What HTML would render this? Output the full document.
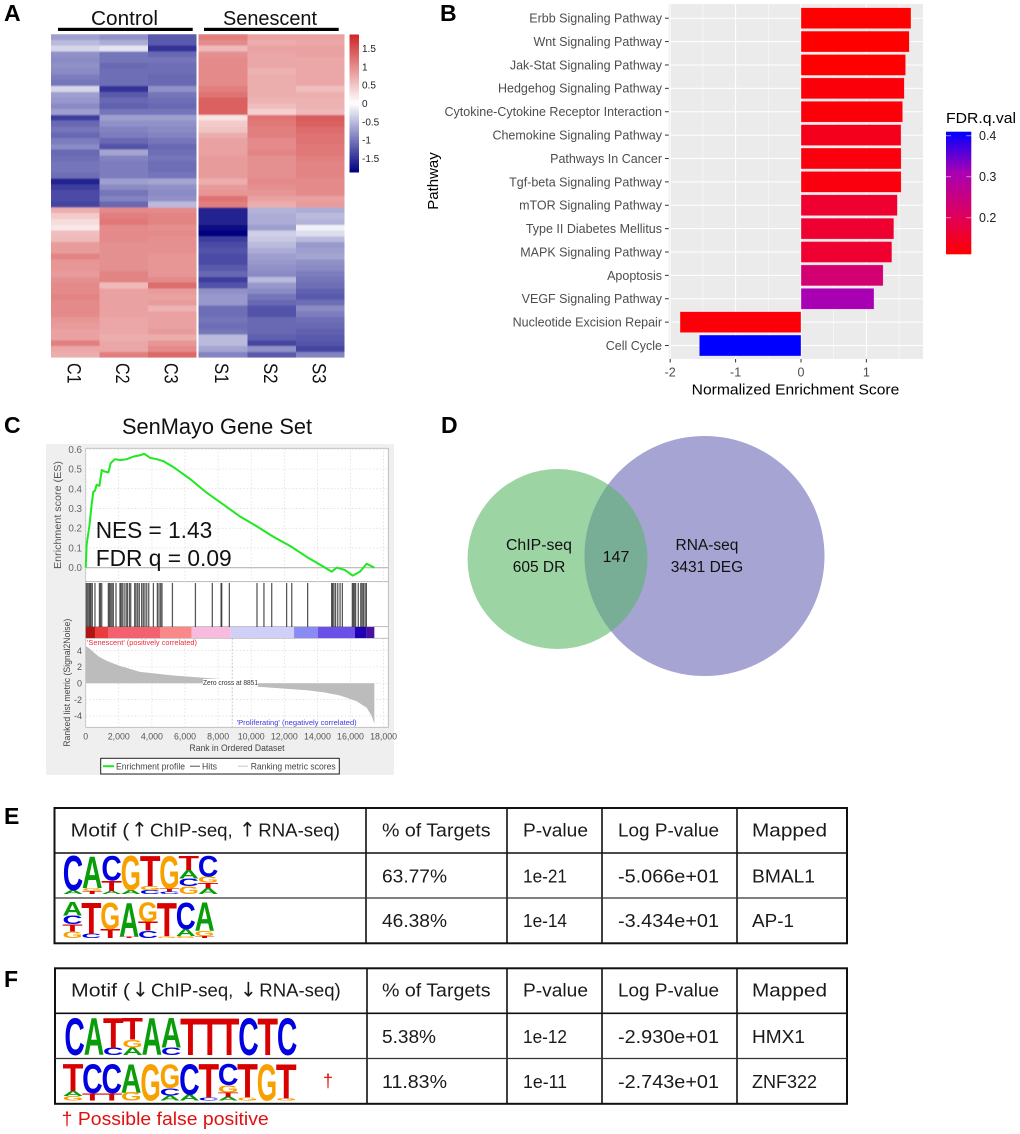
<!DOCTYPE html>
<html lang="en">
<head>
<meta charset="utf-8">
<title>Senescence multi-panel figure</title>
<style>
html,body{margin:0;padding:0;background:#fff}
svg{display:block}
text{font-family:"Liberation Sans",Arial,sans-serif}
.pl{font-weight:bold;font-size:23px;fill:#000}
.tb{font-size:18px;fill:#1a1a1a}
.ar{font-family:"DejaVu Sans",sans-serif;font-size:20px;fill:#1a1a1a}
</style>
</head>
<body>
<svg id="fig" xmlns="http://www.w3.org/2000/svg" width="1020" height="1134" viewBox="0 0 1020 1134">
  <defs>
    <filter id="rowBlur" x="-2%" y="-2%" width="104%" height="104%"><feGaussianBlur stdDeviation="0 0.9"/></filter>
    <clipPath id="heatClip"><rect x="51" y="34" width="293.7" height="323.7"/></clipPath>
    <clipPath id="rnaClip"><circle cx="704.5" cy="556" r="120"/></clipPath>
    <linearGradient id="fdrGrad" x1="0" y1="1" x2="0" y2="0">
      <stop offset="0" stop-color="#ff0000"/>
      <stop offset="0.33" stop-color="#dc0060"/>
      <stop offset="0.67" stop-color="#a800b4"/>
      <stop offset="1" stop-color="#0000ff"/>
    </linearGradient>
  </defs>
  <rect x="0" y="0" width="1020" height="1134" fill="#fff"/>

  <!-- Panel letters -->
  <text class="pl" x="4" y="21">A</text>
  <text class="pl" x="440" y="21">B</text>
  <text class="pl" x="4" y="433">C</text>
  <text class="pl" x="441" y="433">D</text>
  <text class="pl" x="4" y="824">E</text>
  <text class="pl" x="4" y="987">F</text>

  <!-- Panel A -->
  <g id="panelA">
    <text x="91" y="25" font-size="20" textLength="67" lengthAdjust="spacingAndGlyphs" fill="#111">Control</text>
    <rect x="58" y="27.8" width="134.7" height="3.2" fill="#000"/>
    <text x="223" y="25" font-size="20" textLength="94" lengthAdjust="spacingAndGlyphs" fill="#111">Senescent</text>
    <rect x="204" y="27.8" width="134.7" height="3.2" fill="#000"/>
    <g clip-path="url(#heatClip)">
      <g id="heatCells" filter="url(#rowBlur)"></g>
    </g>
  </g>

  <!-- Panel B -->
  <g id="panelB">
    <rect x="668.7" y="4" width="254.3" height="355" fill="#ebebeb"/>
    <text x="795.5" y="394.5" font-size="15" text-anchor="middle" textLength="207.6" lengthAdjust="spacingAndGlyphs" fill="#000">Normalized Enrichment Score</text>
    <text transform="translate(438,181) rotate(-90)" font-size="15" text-anchor="middle" fill="#000">Pathway</text>
    <text x="946" y="123" font-size="15" textLength="70" lengthAdjust="spacingAndGlyphs" fill="#000">FDR.q.val</text>
    <rect x="946" y="131.7" width="25.3" height="122.6" fill="url(#fdrGrad)"/>
  </g>

  <!-- Panel C -->
  <g id="panelC">
    <text x="122" y="434" font-size="22" textLength="190" lengthAdjust="spacingAndGlyphs" fill="#111">SenMayo Gene Set</text>
    <rect x="46" y="444" width="348" height="331" fill="#efefef"/>
    <rect x="85.7" y="448.3" width="302.6" height="133.4" fill="#fff" stroke="#b5b5b5" stroke-width="0.8"/>
    <rect x="85.7" y="581.7" width="302.6" height="45" fill="#fff" stroke="#b5b5b5" stroke-width="0.8"/>
    <rect x="85.7" y="626.7" width="302.6" height="11.6" fill="#fff" stroke="#b5b5b5" stroke-width="0.8"/>
    <rect x="85.7" y="638.3" width="302.6" height="89" fill="#fff" stroke="#b5b5b5" stroke-width="0.8"/>
    <text transform="translate(61,515) rotate(-90)" font-size="10.5" text-anchor="middle" textLength="108" lengthAdjust="spacingAndGlyphs" fill="#555">Enrichment score (ES)</text>
    <text transform="translate(70,682.7) rotate(-90)" font-size="9.5" text-anchor="middle" textLength="128" lengthAdjust="spacingAndGlyphs" fill="#444">Ranked list metric (Signal2Noise)</text>
    <text x="237" y="751" font-size="9.5" text-anchor="middle" textLength="95" lengthAdjust="spacingAndGlyphs" fill="#444">Rank in Ordered Dataset</text>
    <g>
      <rect x="100.7" y="758.3" width="238.6" height="15.7" fill="#fff" stroke="#222" stroke-width="1"/>
      <line x1="103" x2="114" y1="766.2" y2="766.2" stroke="#1fe81f" stroke-width="2"/>
      <text x="116" y="769.3" font-size="8.8" textLength="69" lengthAdjust="spacingAndGlyphs" fill="#444">Enrichment profile</text>
      <line x1="190" x2="200" y1="766.2" y2="766.2" stroke="#555" stroke-width="1"/>
      <text x="202" y="769.3" font-size="8.8" textLength="15" lengthAdjust="spacingAndGlyphs" fill="#444">Hits</text>
      <line x1="238" x2="248" y1="766.2" y2="766.2" stroke="#c4c4c4" stroke-width="1"/>
      <text x="250.7" y="769.3" font-size="8.8" textLength="85" lengthAdjust="spacingAndGlyphs" fill="#444">Ranking metric scores</text>
    </g>
  </g>

  <!-- Panel D -->
  <g id="panelD">
    <circle cx="557.5" cy="559" r="90" fill="#9dd4a4"/>
    <circle cx="704.5" cy="556" r="120" fill="#a5a4d2"/>
    <circle cx="557.5" cy="559" r="90" fill="#78ad96" clip-path="url(#rnaClip)"/>
    <text x="539" y="550" font-size="15.5" text-anchor="middle" textLength="66" lengthAdjust="spacingAndGlyphs" fill="#111">ChIP-seq</text>
    <text x="539" y="572" font-size="15.5" text-anchor="middle" fill="#111">605 DR</text>
    <text x="616" y="562" font-size="16" text-anchor="middle" fill="#111">147</text>
    <text x="707" y="550" font-size="15.5" text-anchor="middle" fill="#111">RNA-seq</text>
    <text x="707" y="572" font-size="15.5" text-anchor="middle" fill="#111">3431 DEG</text>
  </g>

  <!-- Panel E table -->
  <g id="tableE" stroke="none">
    <rect x="54.5" y="808" width="792.5" height="135.3" fill="none" stroke="#111" stroke-width="2"/>
    <path d="M54.5 853H847M366 808V943M507 808V943M602 808V943M737 808V943" fill="none" stroke="#111" stroke-width="1.6"/>
    <path d="M54.5 898H847" fill="none" stroke="#333" stroke-width="1.2"/>
    <text class="tb" x="70.7" y="836.5" textLength="58.6" lengthAdjust="spacingAndGlyphs">Motif (</text>
    <text class="ar" x="131" y="836.5">↑</text>
    <text class="tb" x="150" y="836.5" textLength="82.7" lengthAdjust="spacingAndGlyphs">ChIP-seq,</text>
    <text class="ar" x="239" y="836.5">↑</text>
    <text class="tb" x="258.3" y="836.5" textLength="81.7" lengthAdjust="spacingAndGlyphs">RNA-seq)</text>
    <text class="tb" x="382" y="836.5" textLength="108.5" lengthAdjust="spacingAndGlyphs">% of Targets</text>
    <text class="tb" x="523" y="836.5" textLength="65" lengthAdjust="spacingAndGlyphs">P-value</text>
    <text class="tb" x="618" y="836.5" textLength="101" lengthAdjust="spacingAndGlyphs">Log P-value</text>
    <text class="tb" x="752" y="836.5" textLength="75" lengthAdjust="spacingAndGlyphs">Mapped</text>
    <text class="tb" x="382" y="882.5" textLength="65" lengthAdjust="spacingAndGlyphs">63.77%</text>
    <text class="tb" x="523" y="882.5" textLength="44" lengthAdjust="spacingAndGlyphs">1e-21</text>
    <text class="tb" x="618" y="882.5" textLength="101" lengthAdjust="spacingAndGlyphs">-5.066e+01</text>
    <text class="tb" x="752" y="882.5" textLength="63" lengthAdjust="spacingAndGlyphs">BMAL1</text>
    <text class="tb" x="382" y="927" textLength="65" lengthAdjust="spacingAndGlyphs">46.38%</text>
    <text class="tb" x="523" y="927" textLength="44" lengthAdjust="spacingAndGlyphs">1e-14</text>
    <text class="tb" x="618" y="927" textLength="101" lengthAdjust="spacingAndGlyphs">-3.434e+01</text>
    <text class="tb" x="752" y="927" textLength="42" lengthAdjust="spacingAndGlyphs">AP-1</text>
  </g>

  <!-- Panel F table -->
  <g id="tableF" stroke="none">
    <rect x="55" y="968.3" width="792" height="135.5" fill="none" stroke="#111" stroke-width="2"/>
    <path d="M55 1013.3H847M367 968V1104M507 968V1104M602 968V1104M737 968V1104" fill="none" stroke="#111" stroke-width="1.6"/>
    <path d="M55 1058.5H847" fill="none" stroke="#333" stroke-width="1.2"/>
    <text class="tb" x="71" y="996.5" textLength="59" lengthAdjust="spacingAndGlyphs">Motif (</text>
    <text class="ar" x="132" y="996.5">↓</text>
    <text class="tb" x="151" y="996.5" textLength="82.3" lengthAdjust="spacingAndGlyphs">ChIP-seq,</text>
    <text class="ar" x="240" y="996.5">↓</text>
    <text class="tb" x="259.3" y="996.5" textLength="81.4" lengthAdjust="spacingAndGlyphs">RNA-seq)</text>
    <text class="tb" x="382" y="996.5" textLength="108.5" lengthAdjust="spacingAndGlyphs">% of Targets</text>
    <text class="tb" x="523" y="996.5" textLength="65" lengthAdjust="spacingAndGlyphs">P-value</text>
    <text class="tb" x="618" y="996.5" textLength="101" lengthAdjust="spacingAndGlyphs">Log P-value</text>
    <text class="tb" x="752" y="996.5" textLength="75" lengthAdjust="spacingAndGlyphs">Mapped</text>
    <text class="tb" x="382" y="1043" textLength="54" lengthAdjust="spacingAndGlyphs">5.38%</text>
    <text class="tb" x="523" y="1043" textLength="44" lengthAdjust="spacingAndGlyphs">1e-12</text>
    <text class="tb" x="618" y="1043" textLength="101" lengthAdjust="spacingAndGlyphs">-2.930e+01</text>
    <text class="tb" x="752" y="1043" textLength="53" lengthAdjust="spacingAndGlyphs">HMX1</text>
    <text class="tb" x="382" y="1088" textLength="65" lengthAdjust="spacingAndGlyphs">11.83%</text>
    <text class="tb" x="523" y="1088" textLength="44" lengthAdjust="spacingAndGlyphs">1e-11</text>
    <text class="tb" x="618" y="1088" textLength="101" lengthAdjust="spacingAndGlyphs">-2.743e+01</text>
    <text class="tb" x="752" y="1088" textLength="65" lengthAdjust="spacingAndGlyphs">ZNF322</text>
    <text x="323" y="1087" font-size="18" fill="#e01010">†</text>
    <text x="61.7" y="1125" font-size="18" textLength="207" lengthAdjust="spacingAndGlyphs" fill="#e01010">† Possible false positive</text>
  </g>
</svg>

<script>
// ---------- Panel A data ----------
const heatSamples = ['C1','C2','C3','S1','S2','S3'];
const heatLegendTicks = [1.5,1,0.5,0,-0.5,-1,-1.5];
const heatRows = [
 [-0.7,-0.8,-1.2,1.1,0.8,0.8],[-0.5,-0.6,-1.2,1.0,0.7,0.75],[-0.3,-0.2,-1.5,0.6,0.8,0.8],
 [-0.8,-1.0,-1.1,0.95,0.75,0.8],[-0.85,-1.0,-1.0,1.0,0.75,0.75],[-0.8,-1.1,-1.05,1.0,0.75,0.75],
 [-0.85,-1.05,-1.05,1.0,0.65,0.75],[-0.95,-1.05,-1.1,1.0,0.7,0.75],[-1.0,-1.05,-1.1,1.0,0.7,0.75],
 [-0.3,-1.5,-0.8,1.1,0.7,0.55],[-0.7,-1.2,-1.0,1.2,0.7,0.7],[-0.75,-1.1,-1.05,1.35,0.65,0.65],
 [-0.85,-1.15,-1.1,1.35,0.55,0.65],[-0.7,-1.0,-1.0,1.35,0.4,0.6],[-1.4,-0.7,-0.7,0.25,1.2,1.4],
 [-1.1,-0.8,-0.8,0.45,1.15,1.35],[-1.0,-0.9,-0.85,0.5,1.1,1.25],[-1.1,-0.95,-0.9,0.7,1.1,1.2],
 [-0.95,-1.1,-1.0,0.8,1.0,1.2],[-0.85,-1.25,-1.1,0.8,1.0,1.15],[-1.1,-0.65,-1.05,0.8,1.05,1.15],
 [-1.05,-0.9,-1.0,0.85,0.95,1.1],[-1.0,-0.95,-1.05,0.85,0.95,1.05],[-1.0,-0.95,-1.05,0.85,0.95,1.05],
 [-1.05,-0.95,-1.0,0.85,0.95,1.05],[-1.6,-0.7,-0.65,0.7,1.0,1.0],[-1.4,-0.85,-0.8,0.85,0.95,1.0],
 [-1.3,-1.0,-0.85,0.9,0.9,1.0],[-1.3,-0.9,-0.8,1.2,0.8,0.8],[-1.35,-1.1,-0.5,1.1,0.7,0.85],
 [0.7,1.0,1.0,-1.6,-0.55,-0.6],[0.45,1.1,1.05,-1.6,-0.6,-0.5],[0.3,1.15,1.05,-1.6,-0.6,-0.55],
 [0.2,1.0,0.95,-1.8,-0.7,-0.1],[0.55,1.0,1.0,-1.9,-0.35,-0.25],[0.6,1.0,0.95,-1.4,-0.4,-0.5],
 [0.85,0.95,0.95,-1.3,-0.5,-0.75],[0.85,0.95,0.95,-1.25,-0.6,-0.7],[1.05,0.95,0.9,-1.3,-0.7,-0.65],
 [0.9,0.95,0.9,-1.3,-0.75,-0.8],[0.9,0.95,0.9,-1.2,-0.8,-0.85],[0.85,1.05,0.9,-1.1,-0.85,-0.95],
 [0.95,1.05,1.0,-1.4,-0.5,-1.0],[1.0,0.6,1.25,-1.25,-0.75,-1.05],[1.0,0.8,0.85,-0.8,-0.85,-1.15],
 [1.05,0.8,0.8,-0.75,-1.0,-1.2],[1.0,0.8,0.85,-0.75,-1.1,-1.05],[1.0,0.8,0.65,-1.05,-1.25,-0.85],
 [1.0,0.8,0.8,-1.05,-1.25,-0.95],[0.9,0.75,0.8,-1.0,-1.1,-1.05],[0.85,0.75,0.8,-1.05,-1.1,-1.1],
 [0.8,0.75,0.85,-1.0,-1.1,-1.15],[0.8,0.7,0.7,-0.5,-1.15,-1.2],[1.1,0.75,0.9,-0.5,-1.35,-1.25],
 [0.75,0.75,1.0,-0.65,-0.8,-1.35],[0.7,1.1,1.3,-0.9,-1.2,-0.9]
];

// ---------- Panel B data ----------
const pathways = ['Erbb Signaling Pathway','Wnt Signaling Pathway','Jak-Stat Signaling Pathway','Hedgehog Signaling Pathway','Cytokine-Cytokine Receptor Interaction','Chemokine Signaling Pathway','Pathways In Cancer','Tgf-beta Signaling Pathway','mTOR Signaling Pathway','Type II Diabetes Mellitus','MAPK Signaling Pathway','Apoptosis','VEGF Signaling Pathway','Nucleotide Excision Repair','Cell Cycle'];
const nesValues = [1.682,1.656,1.60,1.58,1.555,1.53,1.532,1.532,1.474,1.42,1.39,1.257,1.117,-1.85,-1.555];
const fdrValues = [0.11,0.11,0.11,0.12,0.12,0.14,0.125,0.125,0.16,0.16,0.16,0.23,0.31,0.12,0.41];
const nesTicks = [-2,-1,0,1];
const fdrTicks = [0.4,0.3,0.2];

// ---------- Panel C data ----------
const esRanks = [0,60,220,360,460,560,660,830,970,1170,1370,1510,1770,2070,2480,2880,3280,3540,3890,4290,4690,5300,6300,7310,8320,9320,10330,11340,12350,13350,13960,14860,15170,15670,16130,16580,16980,17440];
const esValues = [0,0.12,0.21,0.32,0.385,0.39,0.42,0.415,0.495,0.487,0.483,0.53,0.55,0.545,0.55,0.563,0.57,0.577,0.557,0.55,0.54,0.51,0.45,0.38,0.32,0.26,0.21,0.157,0.11,0.055,0.025,-0.02,0,-0.012,-0.04,-0.02,0.02,0];
const hitRanks = [40,120,200,260,320,400,560,830,890,970,1370,1430,1510,1590,1670,1830,2070,2130,2210,2320,2440,2520,2640,2720,2960,3040,3140,3240,3380,3480,3580,3690,3810,4090,4330,4430,4530,4610,5240,6630,7650,8180,8220,8680,10350,10770,11240,12140,12450,13410,14860,14920,15000,15100,15230,15370,15510,16110,16170,16230,16310,16470,16620,16700,16780,16880,16960];
const bandEnds = [560,1370,4490,6400,8760,12590,14020,16270,16980,17440];
const bandColors = ['#b01414','#ea3c3c','#f5606e','#fb8888','#f9bbdd','#cfcff8','#8a8af5','#6a50e8','#2000b4','#4a10a0'];
const metricRanks = [0,260,770,1270,1970,3280,5300,7310,8700,8851,9000,10330,13350,14360,15370,16370,16980,17280,17440];
const metricValues = [4.57,4.2,3.3,2.75,2.2,1.4,0.95,0.65,0.45,0,-0.3,-0.4,-0.85,-1.1,-1.5,-2.2,-3.0,-4.0,-4.95];
const esTicks = ['0.6','0.5','0.4','0.3','0.2','0.1','0.0'];
const metricTicks = ['4','2','0','-2','-4'];
const rankTicks = ['0','2,000','4,000','6,000','8,000','10,000','12,000','14,000','16,000','18,000'];
const zeroCrossRank = 8851;

// ---------- Panels E/F logo data (bottom-to-top stacks, height fractions) ----------
const logoBmal1 = [
 [['A',.1],['C',.9]],[['T',.08],['G',.08],['A',.84]],[['A',.08],['T',.27],['C',.65]],[['A',.1],['G',.9]],
 [['C',.1],['G',.1],['T',.8]],[['C',.06],['T',.08],['G',.86]],[['G',.2],['C',.2],['A',.22],['T',.38]],[['A',.16],['T',.14],['G',.15],['C',.55]]
];
const logoAp1 = [
 [['G',.18],['T',.2],['C',.24],['A',.38]],[['C',.12],['T',.88]],[['T',.25],['G',.75]],[['T',.04],['A',.96]],
 [['C',.2],['T',.25],['G',.55]],[['G',.04],['T',.96]],[['G',.05],['A',.2],['C',.75]],[['T',.06],['G',.14],['A',.8]]
];
const logoHmx1 = [
 [['C',1]],[['A',1]],[['C',.2],['T',.8]],[['A',.2],['G',.2],['T',.6]],[['A',1]],[['C',.2],['A',.8]],
 [['T',1]],[['T',1]],[['T',1]],[['C',1]],[['T',1]],[['C',1]]
];
const logoZnf322 = [
 [['G',.12],['A',.14],['T',.74]],[['T',.2],['C',.8]],[['T',.2],['C',.8]],[['G',.22],['A',.78]],[['G',1]],
 [['A',.14],['C',.2],['G',.66]],[['A',.16],['C',.84]],[['C',.08],['T',.92]],[['A',.1],['T',.12],['G',.2],['C',.58]],
 [['G',.08],['T',.92]],[['G',1]],[['G',.06],['T',.94]]
];
const logoColors = {A:'#0a9c0a',C:'#0000e0',G:'#f7a000',T:'#d80000'};
const logoGlyphWidth = {A:.722,C:.722,G:.778,T:.611};

const NS = 'http://www.w3.org/2000/svg';
function mk(parent, tag, attrs, txt){
  const el = document.createElementNS(NS, tag);
  for (const k in attrs) el.setAttribute(k, attrs[k]);
  if (txt !== undefined) el.textContent = txt;
  parent.appendChild(el);
  return el;
}
const gA = document.getElementById('panelA');
const gB = document.getElementById('panelB');
const gC = document.getElementById('panelC');
const gHeat = document.getElementById('heatCells');

// ---------- Panel A ----------
const heatColX = [51,99.3,148,198.7,247.3,296];
const heatColW = 48.6;
const heatTop = 34, heatH = 323.7;
function heatY(i){ return heatTop + i * heatH / heatRows.length; }
function heatColor(v){
  const t = Math.min(1, Math.abs(v) / 1.85);
  const end = v >= 0 ? [205,38,38] : [0,0,128];
  return 'rgb(' + end.map(c => Math.round(255 + (c - 255) * t)).join(',') + ')';
}
heatRows.forEach((row, i) => {
  row.forEach((v, j) => {
    const w = (j === 2 || j === 5) ? 48.7 : heatColW + 0.3;
    const cell = mk(gHeat, 'rect', {x: heatColX[j], y: heatY(i), width: w, height: heatH / heatRows.length + 0.4, fill: heatColor(v), 'shape-rendering': 'crispEdges'});
    
    
  });
});
heatSamples.forEach((s, j) => {
  const lab = mk(gA, 'text', {transform: 'translate(' + (heatColX[j] + 16.5) + ',363) rotate(90)', 'font-size': 19, textLength: 20.5, lengthAdjust: 'spacingAndGlyphs', fill: '#111'}, s);
  
  
});
const barSteps = 60;
for (let k = 0; k < barSteps; k++) {
  const v = 1.85 - 3.7 * (k + 0.5) / barSteps;
  const seg = mk(gA, 'rect', {x: 349.3, y: 34.7 + k * 137.3 / barSteps, width: 9.7, height: 137.3 / barSteps + 0.4, fill: heatColor(v), 'shape-rendering': 'crispEdges'});
  
  
}
function heatLegendY(v){ return 103.4 - v * 36.7; }
heatLegendTicks.forEach(v => {
  const t = mk(gA, 'text', {x: 362, y: heatLegendY(v) + 3.6, 'font-size': 10, fill: '#222'}, String(v));
  
  
});

// ---------- Panel B ----------
function xB(v){ return 801 + v * 65.4; }
function yB(i){ return 18.2 + i * 23.38; }
function fdrY(v){ return 135.7 + (0.4 - v) * 410; }
function fdrColor(v){
  const stops = [[0,[255,0,0]],[0.33,[220,0,96]],[0.67,[168,0,180]],[1,[0,0,255]]];
  const t = Math.max(0, Math.min(1, (v - 0.111) / 0.299));
  for (let i = 1; i < stops.length; i++) {
    if (t <= stops[i][0]) {
      const f = (t - stops[i-1][0]) / (stops[i][0] - stops[i-1][0]);
      return 'rgb(' + stops[i][1].map((c, n) => Math.round(stops[i-1][1][n] + (c - stops[i-1][1][n]) * f)).join(',') + ')';
    }
  }
  return 'rgb(0,0,255)';
}
[-1.5,-0.5,0.5,1.5].forEach(v => {
  const g = mk(gB, 'line', {x1: xB(v), x2: xB(v), y1: 4, y2: 359, stroke: '#fff', 'stroke-width': 0.5});
  
  
});
nesTicks.forEach(v => {
  const g = mk(gB, 'line', {x1: xB(v), x2: xB(v), y1: 4, y2: 359, stroke: '#fff', 'stroke-width': 1});
  
  
  const tk = mk(gB, 'line', {x1: xB(v), x2: xB(v), y1: 359, y2: 362.5, stroke: '#333', 'stroke-width': 1});
  
  
  const t = mk(gB, 'text', {x: xB(v), y: 376.5, 'font-size': 12.5, 'text-anchor': 'middle', fill: '#4d4d4d'}, String(v));
  
  
});
pathways.forEach((p, i) => {
  const y = yB(i);
  const g = mk(gB, 'line', {x1: 668.7, x2: 923, y1: y, y2: y, stroke: '#fff', 'stroke-width': 1});
  
  
  const tk = mk(gB, 'line', {x1: 665, x2: 668.7, y1: y, y2: y, stroke: '#333', 'stroke-width': 1});
  
  
  const t = mk(gB, 'text', {x: 662, y: y + 4.4, 'font-size': 12.5, 'text-anchor': 'end', fill: '#4d4d4d'}, p);
  
  
  const x0 = Math.min(xB(0), xB(nesValues[i]));
  const bar = mk(gB, 'rect', {x: x0, y: y - 10.5, width: Math.abs(xB(nesValues[i]) - xB(0)), height: 21, fill: fdrColor(fdrValues[i]), stroke: '#fff', 'stroke-opacity': 0.55, 'stroke-width': 0.6});
  
  
});
fdrTicks.forEach(v => {
  const y = fdrY(v);
  const a = mk(gB, 'line', {x1: 946, x2: 951, y1: y, y2: y, stroke: '#fff', 'stroke-opacity': 0.5});
  
  
  const b = mk(gB, 'line', {x1: 966.3, x2: 971.3, y1: y, y2: y, stroke: '#fff', 'stroke-opacity': 0.5});
  
  
  const t = mk(gB, 'text', {x: 979, y: y + 4.4, 'font-size': 12.5, fill: '#222'}, v.toFixed(1));
  
  
});

// ---------- Panel C ----------
function xRank(r){ return 85.7 + r * 0.01655; }
function yES(v){ return 567.7 - v * 197.3; }
function yMetric(v){ return 683.3 - v * 8.17; }
rankTicks.forEach((lab, i) => {
  const x = xRank(i * 2000);
  const g1 = mk(gC, 'line', {x1: x, x2: x, y1: 448.3, y2: 581.7, stroke: '#dadada', 'stroke-width': 0.7, 'stroke-dasharray': '1.5 2'});
  
  
  const g2 = mk(gC, 'line', {x1: x, x2: x, y1: 638.3, y2: 727.3, stroke: '#dadada', 'stroke-width': 0.7, 'stroke-dasharray': '1.5 2'});
  
  
  const t = mk(gC, 'text', {x: x, y: 739.5, 'font-size': 8.8, 'text-anchor': 'middle', fill: '#555'}, lab);
  
  
});
esTicks.forEach(lab => {
  const y = yES(parseFloat(lab));
  const g = mk(gC, 'line', {x1: 85.7, x2: 388.3, y1: y, y2: y, stroke: lab === '0.0' ? '#b5b5b5' : '#dadada', 'stroke-width': lab === '0.0' ? 1.2 : 0.7, 'stroke-dasharray': lab === '0.0' ? 'none' : '1.5 2'});
  
  
  const t = mk(gC, 'text', {x: 82, y: y + 3.5, 'font-size': 9.8, 'text-anchor': 'end', fill: '#666'}, lab);
  
  
});
metricTicks.forEach(lab => {
  const y = yMetric(parseFloat(lab));
  const g = mk(gC, 'line', {x1: 85.7, x2: 388.3, y1: y, y2: y, stroke: '#dadada', 'stroke-width': 0.7, 'stroke-dasharray': '1.5 2'});
  
  
  const t = mk(gC, 'text', {x: 82, y: y + 3.2, 'font-size': 9, 'text-anchor': 'end', fill: '#555'}, lab);
  
  
});
const esLine = mk(gC, 'polyline', {points: esRanks.map((r, i) => xRank(r) + ',' + yES(esValues[i])).join(' '), fill: 'none', stroke: '#1fe81f', 'stroke-width': 2, 'stroke-linejoin': 'round'});


const nes = mk(gC, 'text', {x: 95.7, y: 538, 'font-size': 23, textLength: 116.5, lengthAdjust: 'spacingAndGlyphs', fill: '#111'}, 'NES = 1.43');


const fdrq = mk(gC, 'text', {x: 95.7, y: 566, 'font-size': 23, textLength: 136, lengthAdjust: 'spacingAndGlyphs', fill: '#111'}, 'FDR q = 0.09');


bandEnds.forEach((end, i) => {
  const start = i === 0 ? 0 : bandEnds[i - 1];
  const b = mk(gC, 'rect', {x: xRank(start), y: 627, width: xRank(end) - xRank(start), height: 11, fill: bandColors[i]});
  
  
});
hitRanks.forEach(r => {
  const h = mk(gC, 'line', {x1: xRank(r), x2: xRank(r), y1: 583, y2: 627, stroke: '#2a2a2a', 'stroke-width': 1.25, 'stroke-opacity': 0.8});
  
  
});
const areaD = 'M' + xRank(0) + ' ' + yMetric(0) + metricRanks.map((r, i) => 'L' + xRank(r) + ' ' + yMetric(metricValues[i])).join('') + 'L' + xRank(metricRanks[metricRanks.length - 1]) + ' ' + yMetric(0) + 'Z';
const area = mk(gC, 'path', {d: areaD, fill: '#bcbcbc'});


const zc = mk(gC, 'line', {x1: xRank(zeroCrossRank), x2: xRank(zeroCrossRank), y1: 638.3, y2: 727.3, stroke: '#bbb', 'stroke-width': 0.8, 'stroke-dasharray': '2 1.5'});


const zcBg = mk(gC, 'rect', {x: 203, y: 679, width: 55, height: 7.5, fill: '#fff'});


const zcT = mk(gC, 'text', {x: 203, y: 685, 'font-size': 7.2, textLength: 55, lengthAdjust: 'spacingAndGlyphs', fill: '#333'}, 'Zero cross at ' + zeroCrossRank);


const senT = mk(gC, 'text', {x: 87, y: 645, 'font-size': 7.5, textLength: 110, lengthAdjust: 'spacingAndGlyphs', fill: '#e8303a'}, "'Senescent' (positively correlated)");


const proT = mk(gC, 'text', {x: 236.7, y: 725, 'font-size': 7.5, textLength: 120, lengthAdjust: 'spacingAndGlyphs', fill: '#3a3ae0'}, "'Proliferating' (negatively correlated)");



// ---------- Logos ----------
function drawLogo(parentId, cols, x0, x1, yTop, yBottom, name){
  const parent = document.getElementById(parentId);
  const w = (x1 - x0) / cols.length, H = yBottom - yTop, fs = 20, cap = 0.72 * fs;
  cols.forEach((stack, c) => {
    let y = yBottom;
    stack.forEach(item => {
      const letter = item[0], h = item[1] * H;
      const sx = w / ((logoGlyphWidth[letter] - 0.04) * fs), sy = h / cap;
      const t = mk(parent, 'text', {transform: 'translate(' + (x0 + c * w - 0.02 * fs * sx) + ',' + y + ') scale(' + sx + ',' + sy + ')', 'font-size': fs, 'font-weight': 'bold', fill: logoColors[letter]}, letter);
      
      
      y -= h;
    });
  });
}
drawLogo('tableE', logoBmal1, 63.3, 217.7, 855, 894, 'bmal1-logo');
drawLogo('tableE', logoAp1, 63, 214, 901.7, 938, 'ap1-logo');
drawLogo('tableF', logoHmx1, 65, 296.7, 1016.7, 1055, 'hmx1-logo');
drawLogo('tableF', logoZnf322, 63.3, 296, 1063, 1100.7, 'znf322-logo');
</script>
</body>
</html>
